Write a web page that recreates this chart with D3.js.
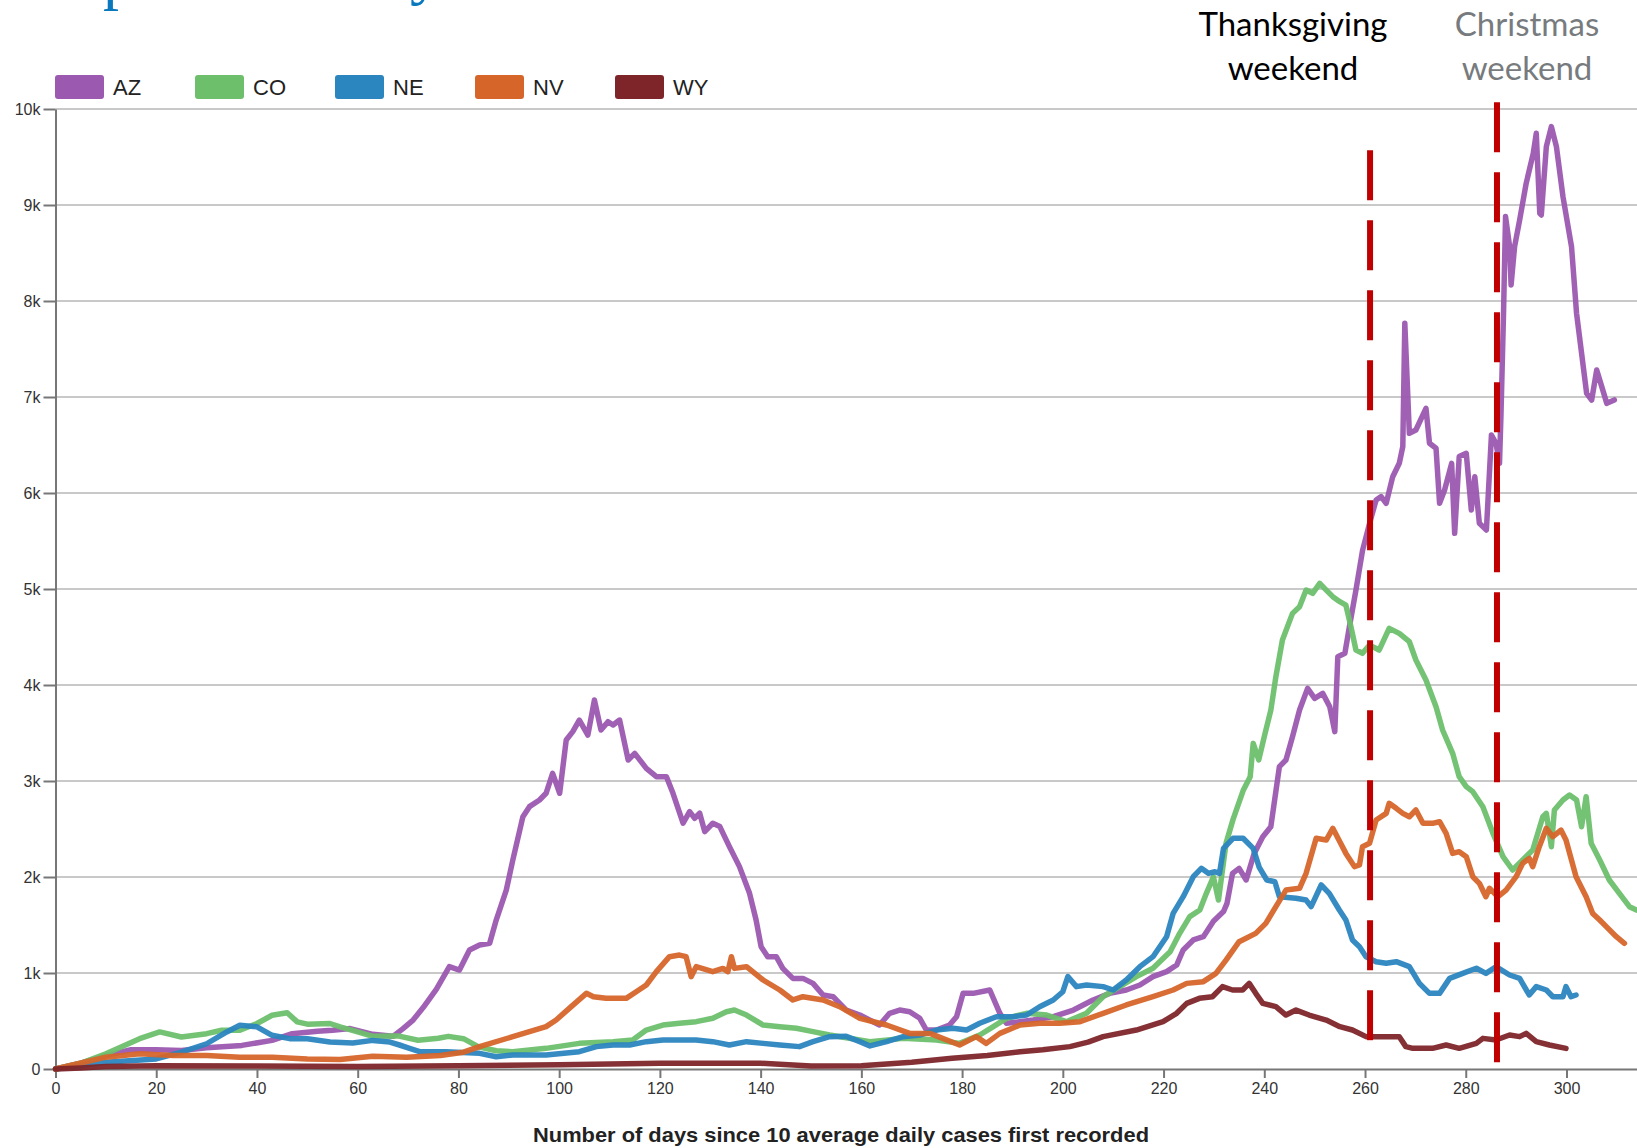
<!DOCTYPE html>
<html>
<head>
<meta charset="utf-8">
<script src="https://cdn.jsdelivr.net/npm/d3@7/dist/d3.min.js"></script>
<style>
  body { margin: 0; background: #fff; }
  svg { display: block; }
  .axis text { font-family: "Liberation Sans", Arial, sans-serif; font-size: 16px; fill: #333; }
  .axis path, .axis line { stroke: #777; stroke-width: 2; }
</style>
</head>
<body>
<div id="chart"></div>
<script>
// data: [day, average daily cases]
var states = ["AZ", "CO", "NE", "NV", "WY"];
var colors = ["#9b59b0", "#6dbf6b", "#2b85bf", "#d6652a", "#7e2529"];

var azData = [[0,0],[5,60],[10,140],[15,200],[20,200],[25,193],[30,221],[37,246],[43,298],[47,368],[52,393],[55,404],[58.5,421],[63,361],[67,340],[69,420],[71,510],[73,640],[75.6,830],[78.2,1066],[80.2,1031],[82.2,1239],[84.2,1291],[86.2,1309],[87.5,1552],[89.5,1864],[90.8,2177],[92.8,2628],[94.1,2733],[96.1,2802],[97.4,2872],[98.7,3080],[100.1,2872],[101.4,3427],[102.7,3514],[104,3635],[105.7,3479],[107,3843],[108.3,3531],[109.7,3618],[110.7,3583],[112,3635],[113.7,3219],[115,3288],[117.3,3132],[119.3,3045],[121.3,3045],[122.6,2872],[124.6,2560],[125.9,2681],[126.9,2612],[127.9,2664],[128.9,2473],[130.5,2560],[131.9,2525],[133.8,2317],[135.8,2108],[137.8,1830],[139.1,1552],[140.1,1274],[141.4,1170],[143.1,1170],[144.4,1048],[146.4,944],[148.4,944],[150.4,892],[152.4,771],[154.4,753],[155.7,684],[157,614],[159.7,562],[163.6,458],[165.6,580],[167.6,614],[169.6,597],[171.6,528],[172.9,406],[174.9,406],[177.5,458],[178.9,545],[180.2,788],[182.2,788],[185.5,823],[187.5,580],[188.8,476],[191.5,493],[194.1,510],[198.1,545],[202.1,614],[206,719],[209.3,788],[212.6,823],[215.3,875],[217.9,962],[220.6,1014],[222.6,1083],[223.9,1240],[225.9,1344],[227.9,1378],[229.9,1540],[231.9,1640],[232.6,1726],[233.7,2038],[235,2090],[236.4,1969],[238,2246],[239.7,2420],[241.3,2524],[243,3149],[244.3,3219],[245.6,3462],[247,3739],[248.6,3965],[250,3861],[251.6,3913],[253,3774],[254,3514],[254.6,4295],[256,4330],[256.9,4607],[258.2,4989],[259.5,5400],[260.9,5684],[262.2,5927],[263.2,5962],[264.2,5892],[265.5,6170],[266.8,6309],[267.5,6483],[267.9,7768],[268.8,6622],[270.1,6656],[272.1,6882],[272.8,6518],[274.1,6466],[274.8,5892],[275.8,6031],[277.2,6309],[277.8,5580],[278.7,6379],[280.1,6413],[281.1,5823],[281.8,6170],[282.7,5684],[284.1,5615],[285.1,6604],[286,6518],[286.7,6309],[287,6830],[287.5,7872],[287.9,8879],[288.7,8568],[289,8167],[289.7,8568],[290.7,8844],[292,9226],[293.4,9538],[294,9747],[294.7,8913],[295,8896],[296,9608],[297,9816],[298,9608],[299.3,9087],[301,8566],[302,7872],[303,7455],[304,7038],[305,6969],[306,7281],[307,7108],[308,6934],[309.5,6969]];

var coData = [[0,0],[5,60],[10,158],[16.7,316],[20.7,386],[25,333],[30,368],[33,404],[36.6,404],[40,474],[43,560],[46,586],[48,491],[50,467],[54.5,474],[56.5,439],[60,386],[63,340],[68,345],[72,300],[76,320],[78,340],[81,316],[84,230],[87.5,190],[90.8,180],[97.4,215],[104,267],[110.7,285],[114.6,302],[117.3,406],[120.6,458],[123.9,476],[127.2,493],[130.5,528],[133.2,597],[134.8,614],[137.2,562],[140.5,458],[143.8,441],[147.1,424],[150.4,389],[153.7,354],[157,325],[161.7,285],[168.3,319],[174.9,302],[179.5,267],[183.5,354],[186.2,441],[188.8,528],[192.8,580],[196.8,562],[200.7,493],[204.7,580],[208,753],[211.3,858],[214.6,962],[217.9,1049],[221.3,1222],[223.2,1413],[225.2,1587],[227.2,1656],[228.5,1830],[229.9,2003],[230.9,1760],[232.4,2350],[233.8,2600],[235.8,2900],[237.2,3045],[237.8,3392],[238.9,3219],[240,3462],[241.3,3739],[242.3,4087],[243.6,4469],[245.6,4746],[247,4816],[248.3,4989],[249.6,4955],[251,5059],[252.3,4989],[253.6,4920],[255,4868],[256.2,4833],[257.2,4607],[258.2,4364],[259.5,4330],[260.9,4416],[262.8,4364],[264.8,4590],[266.8,4538],[268.8,4451],[270.1,4260],[272.1,4052],[274.1,3774],[275.4,3531],[277.4,3288],[278.7,3045],[280.1,2941],[281.4,2889],[283.4,2732],[285.4,2455],[287.4,2212],[289.3,2073],[291.3,2177],[293.3,2281],[295.3,2628],[296,2663],[297,2316],[297.6,2698],[299.3,2802],[300.6,2854],[302,2802],[303,2524],[303.9,2837],[304.9,2351],[306.6,2177],[308.5,1969],[310.5,1830],[312.5,1691],[313.9,1656]];

var neData = [[0,0],[10,70],[20,105],[25,175],[30,263],[34,386],[36.6,456],[40,439],[43,351],[46.5,316],[50,316],[54.5,281],[59,270],[63,298],[66.4,281],[68.3,250],[70,221],[72.3,180],[77.5,180],[84.2,163],[87.5,128],[90.8,146],[97.4,146],[104,180],[107.4,233],[110.7,250],[114,250],[117.3,285],[120.6,302],[127.2,302],[130.5,285],[133.8,250],[137.2,285],[140.5,267],[143.8,250],[147.7,233],[150.4,285],[153.7,337],[157,340],[159.7,285],[161.7,240],[165,285],[168.3,337],[171.6,354],[174.9,406],[178.2,424],[180.9,406],[183.5,476],[186.8,545],[190.1,545],[192.8,562],[195.4,649],[198.1,719],[200,805],[201,962],[202.7,858],[204.7,875],[208,858],[210,823],[212.6,927],[215.3,1066],[217.9,1170],[220.6,1378],[221.9,1621],[223.9,1795],[225.9,2003],[227.5,2090],[228.9,2038],[230.2,2055],[231.1,2038],[231.9,2298],[233.8,2403],[235.8,2403],[237.8,2298],[239,2100],[240.5,1969],[242.1,1951],[243,1795],[246.3,1778],[248.3,1760],[249.3,1691],[251.3,1917],[252.9,1830],[254.9,1656],[256.2,1552],[257.5,1344],[258.9,1274],[260.2,1170],[262.2,1118],[264.2,1101],[266.2,1118],[268.8,1066],[270.8,892],[272.8,788],[274.8,788],[276.8,944],[279.4,996],[282.1,1049],[284,996],[286,1066],[288.7,979],[290.7,944],[292.6,771],[294,858],[296,823],[297.3,753],[299.3,753],[299.9,858],[300.9,753],[301.9,771]];

var nvData = [[0,0],[10,123],[16.7,158],[23.4,140],[30,140],[36.6,123],[43,123],[50,105],[56.5,98],[63,133],[69.7,123],[76.4,140],[81,175],[84.2,233],[90.8,337],[94.1,389],[97.4,441],[99.4,510],[102,632],[105.4,788],[106.8,753],[109.3,736],[113.3,736],[115.3,805],[117.3,875],[119.3,1014],[121.9,1170],[123.9,1187],[125.2,1170],[126.2,962],[127.2,1066],[130.5,1014],[132.5,1048],[133.5,1014],[134.2,1170],[134.8,1048],[137.2,1066],[140.5,927],[143.8,823],[146.4,719],[148.4,753],[152.4,719],[155.7,649],[159.7,528],[165,458],[169.6,371],[173.6,371],[179.5,250],[182.8,337],[184.8,267],[187.5,371],[191.5,458],[195.4,476],[199.4,476],[203.4,493],[208,580],[212.6,667],[217.9,753],[221.9,823],[224.6,892],[227.9,910],[230.4,996],[232.4,1135],[235,1326],[238.3,1413],[240.3,1517],[242.3,1691],[244.3,1864],[247,1882],[248.3,2038],[250.3,2403],[252.3,2385],[253.6,2507],[255,2368],[256.2,2246],[257.9,2108],[258.9,2125],[259.5,2316],[260.9,2351],[262.2,2594],[264.2,2663],[264.8,2767],[266.2,2715],[267.5,2663],[268.8,2628],[270.1,2698],[271.5,2559],[273.4,2559],[274.8,2576],[276.1,2455],[277.4,2246],[278.7,2264],[280.1,2212],[281.4,2003],[282.7,1934],[284,1795],[284.7,1882],[286.4,1795],[288,1864],[290,2003],[291.3,2142],[292.6,2194],[293.3,2108],[294.6,2316],[296,2507],[297.3,2420],[298.9,2489],[299.9,2385],[301.9,2003],[303.9,1795],[305.2,1621],[306.6,1552],[307.9,1483],[309.9,1378],[311.5,1309]];

var wyData = [[0,0],[5,10],[10,25],[20,35],[40,30],[60,25],[80,35],[100,45],[120,60],[140,60],[150,30],[160,35],[170,70],[178,111],[185,140],[191.5,180],[196,200],[201.4,233],[205,280],[208,337],[214.6,406],[219.9,493],[222.6,580],[224.6,684],[227.1,736],[229.7,753],[231.7,858],[233.7,823],[235.7,823],[237,892],[238.3,788],[239.7,684],[242.3,649],[244.3,562],[246.3,614],[248.9,562],[252.3,510],[255,441],[257.5,406],[260.2,337],[263.5,337],[266.8,337],[268.1,233],[269.5,215],[273.4,215],[276.1,250],[278.7,215],[282.1,267],[283.4,319],[286,302],[288.7,354],[290.7,337],[292,371],[294,285],[296.6,250],[299.9,215]];

var seriesData = [azData, coData, neData, nvData, wyData];

var xTicks = [0,20,40,60,80,100,120,140,160,180,200,220,240,260,280,300];
var yTicks = [0,1000,2000,3000,4000,5000,6000,7000,8000,9000,10000];

// holiday markers: day, top value, bottom value
var eventNames = [["Thanksgiving", "weekend"], ["Christmas", "weekend"]];
var eventDays = [261, 286.2];
var eventTop = [9570, 10070];
var eventBottom = [300, 60];
var eventColors = ["#000", "#777b7e"];

var svgWidth = 1637;
var svgHeight = 1148;

var svg = d3.select("#chart").append("svg")
    .attr("width", svgWidth)
    .attr("height", svgHeight);

var x = d3.scaleLinear().domain([0, 314]).range([55.5, 1637]);
var y = d3.scaleLinear().domain([0, 10000]).range([1069, 109]);

// cut off title above the chart (only the descenders show)
svg.append("text").attr("x", 103).attr("y", -3)
    .style("font-family", "Liberation Serif").style("font-size", "64px")
    .attr("fill", "#0a78bd").text("p");
svg.append("text").attr("x", 410).attr("y", -8)
    .style("font-family", "Liberation Serif").style("font-size", "64px")
    .attr("fill", "#0a78bd").text("y");

// gridlines
svg.append("g").selectAll("line")
    .data(yTicks.slice(1))
    .enter().append("line")
    .attr("x1", x(0)).attr("x2", svgWidth)
    .attr("y1", d => y(d)).attr("y2", d => y(d))
    .attr("stroke", "#c9c9c9")
    .attr("stroke-width", 2);

// axes
svg.append("g")
    .attr("class", "axis")
    .attr("transform", `translate(${x(0)},0)`)
    .call(d3.axisLeft(y).tickValues(yTicks).tickSize(12).tickSizeOuter(0)
        .tickFormat(d => d == 0 ? "0" : (d / 1000) + "k"));

svg.append("g")
    .attr("class", "axis")
    .attr("transform", `translate(0,${y(0)})`)
    .call(d3.axisBottom(x).tickValues(xTicks).tickSize(9).tickSizeOuter(0).tickPadding(5));

svg.append("text")
    .attr("x", 841).attr("y", 1142)
    .attr("text-anchor", "middle")
    .attr("textLength", 616)
    .attr("lengthAdjust", "spacingAndGlyphs")
    .style("font-family", "Liberation Sans, Arial, sans-serif")
    .style("font-weight", "bold").style("font-size", "21px")
    .attr("fill", "#222")
    .text("Number of days since 10 average daily cases first recorded");

// lines
var line = d3.line().x(d => x(d[0])).y(d => y(d[1]));

svg.append("g").selectAll("path")
    .data(seriesData)
    .enter().append("path")
    .attr("d", line)
    .attr("fill", "none")
    .attr("stroke", (d, i) => colors[i])
    .attr("stroke-width", 5.5)
    .attr("stroke-linejoin", "round")
    .attr("stroke-linecap", "round")
    .attr("opacity", 0.95);

// legend
var legend = svg.append("g").selectAll("g")
    .data(states)
    .enter().append("g")
    .attr("transform", (d, i) => `translate(${55 + i * 140},75)`);

legend.append("rect")
    .attr("width", 49).attr("height", 24).attr("rx", 3)
    .attr("fill", (d, i) => colors[i]);

legend.append("text")
    .attr("x", 58).attr("y", 20)
    .style("font-family", "Liberation Sans, Arial, sans-serif")
    .style("font-size", "22px")
    .attr("fill", "#222")
    .text(d => d);

// holiday lines + labels
eventDays.forEach(function(day, i) {
    svg.append("line")
        .attr("x1", x(day)).attr("x2", x(day))
        .attr("y1", y(eventTop[i])).attr("y2", y(eventBottom[i]))
        .attr("stroke", "#c00000")
        .attr("stroke-width", 6)
        .attr("stroke-dasharray", "50,20");
});

var labelX = [1293, 1527];
eventNames.forEach(function(words, i) {
    var t = svg.append("text")
        .attr("text-anchor", "middle")
        .style("font-family", "Lato, 'Open Sans', sans-serif")
        .style("font-size", "33px")
        .attr("fill", eventColors[i]);
    t.append("tspan").attr("x", labelX[i]).attr("y", 36).text(words[0]);
    t.append("tspan").attr("x", labelX[i]).attr("y", 80).text(words[1]);
});
</script>
</body>
</html>
